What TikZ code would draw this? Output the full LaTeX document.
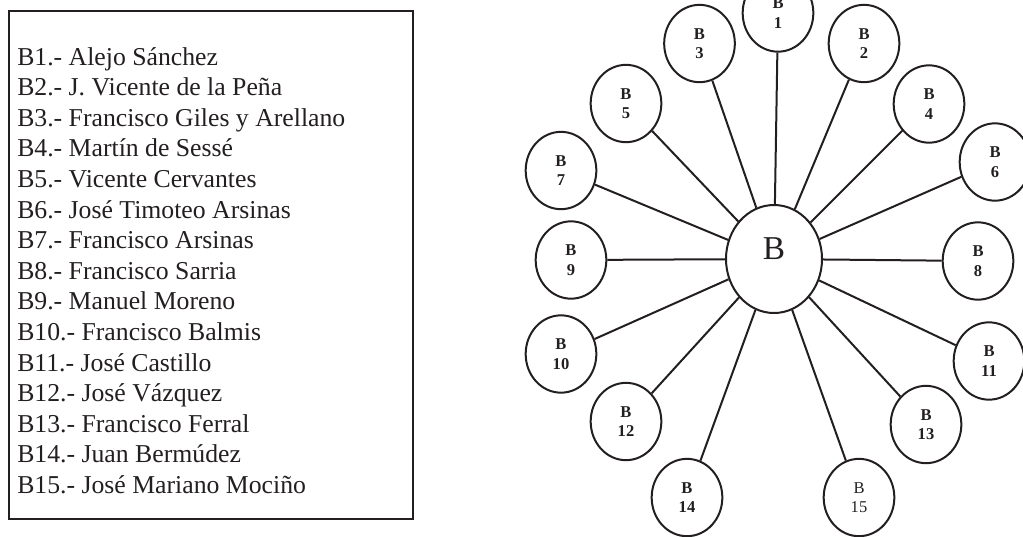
\documentclass[tikz,border=0pt]{standalone}
\usepackage{fontspec}
\setmainfont{Liberation Serif}
\usetikzlibrary{shapes.geometric}
\definecolor{ink}{RGB}{35,31,32}
\begin{document}
\begin{tikzpicture}[x=0.75pt,y=-0.75pt,
  spoke/.style={draw=ink,line width=1.5pt},
  hub/.style={ellipse,draw=ink,line width=1.5pt,minimum width=72pt,minimum height=81pt,
    inner sep=0pt,text depth=15pt,text=ink,font=\fontsize{25}{25}\selectfont},
  member/.style={ellipse,draw=ink,line width=1.5pt,minimum width=53pt,minimum height=58pt,
    inner sep=0pt,align=center,text=ink,font=\fontsize{12.4}{14.5}\selectfont\bfseries},
  plainmember/.style={member,font=\fontsize{12.4}{14.5}\selectfont},
  entry/.style={anchor=base west,inner sep=0pt,text=ink,font=\fontsize{19.3}{23}\selectfont},
  legendbox/.style={draw=ink,line width=1.5pt,rectangle,inner sep=0pt,
    minimum width=303pt,minimum height=381.4pt,anchor=north west}]
\useasboundingbox (0,0) rectangle (1023,536);

% legend
\node[legendbox] (legend) at (8,9.5) {};
\foreach \i/\t in {1/{B1.- Alejo Sánchez},
  2/{B2.- J. Vicente de la Peña},
  3/{B3.- Francisco Giles y Arellano},
  4/{B4.- Martín de Sessé},
  5/{B5.- Vicente Cervantes},
  6/{B6.- José Timoteo Arsinas},
  7/{B7.- Francisco Arsinas},
  8/{B8.- Francisco Sarria},
  9/{B9.- Manuel Moreno},
  10/{B10.- Francisco Balmis},
  11/{B11.- José Castillo},
  12/{B12.- José Vázquez},
  13/{B13.- Francisco Ferral},
  14/{B14.- Juan Bermúdez},
  15/{B15.- José Mariano Mociño}}
  \node[entry] (l\i) at (17,{65+30.6*(\i-1)}) {\t};

% hub and members
\node[hub] (B) at (774,259) {B};
\node[member] (B1) at (778,13) {B\\1};
\node[member] (B2) at (864,43.5) {B\\2};
\node[member] (B3) at (699.5,43.5) {B\\3};
\node[member] (B4) at (929,104) {B\\4};
\node[member] (B5) at (626,103.5) {B\\5};
\node[member] (B6) at (995,162) {B\\6};
\node[member] (B7) at (561,170.5) {B\\7};
\node[member] (B8) at (978,261) {B\\8};
\node[member] (B9) at (571,260) {B\\9};
\node[member] (B10) at (561,354) {B\\10};
\node[member] (B11) at (989,361) {B\\11};
\node[member] (B12) at (626,421.5) {B\\12};
\node[member] (B13) at (926,424.5) {B\\13};
\node[member] (B14) at (687,497.5) {B\\14};
\node[plainmember] (B15) at (859,497.5) {B\\15};

% spokes
\foreach \k in {1,...,15}
  \draw[spoke] (B) -- (B\k);
\end{tikzpicture}
\end{document}
